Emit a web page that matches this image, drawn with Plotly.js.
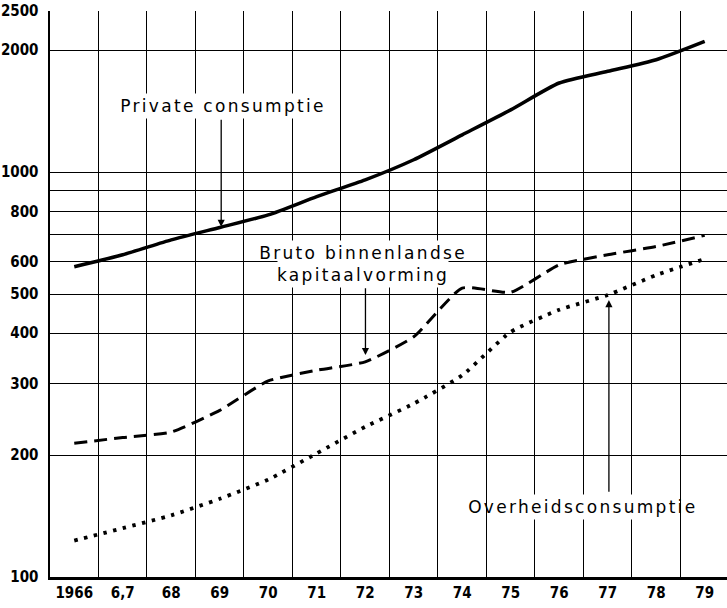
<!DOCTYPE html>
<html>
<head>
<meta charset="utf-8">
<script src="https://cdn.plot.ly/plotly-3.0.1.min.js"></script>
<style>
html,body{margin:0;padding:0;background:#fff;}
#chart{width:727px;height:608px;}
#chart .annotation-text{letter-spacing:2.3px;}
</style>
</head>
<body>
<div id="chart"></div>
<script>
const years = [1966,1967,1968,1969,1970,1971,1972,1973,1974,1975,1976,1977,1978,1979];
const yearLabels = ['1966','6,7','68','69','70','71','72','73','74','75','76','77','78','79'];
const privateConsumptie = [584,625,680,730,784,870,957,1073,1236,1425,1660,1774,1895,2103];
const brutoKapitaal = [214,221,228,258,305,324,340,392,517,505,590,625,655,698];
const overheidsConsumptie = [123,132,142,156,174,202,235,268,315,403,457,497,557,610];
const yTickVals = [100,200,300,400,500,600,700,800,900,1000,2000,2500];
const yTickText = ['100','200','300','400','500','600','','800','','1000','2000','2500'];

const font = 'DejaVu Sans Condensed, DejaVu Sans, sans-serif';

const traces = [
  {x: years, y: privateConsumptie, mode: 'lines', line: {color: '#000', width: 3.5, shape: 'spline', smoothing: 0.6}, hoverinfo: 'skip'},
  {x: years, y: brutoKapitaal, mode: 'lines', line: {color: '#000', width: 3, dash: '13px,7px', shape: 'spline', smoothing: 0.5}, hoverinfo: 'skip'},
  {x: years, y: overheidsConsumptie, mode: 'lines', line: {color: '#000', width: 3.8, dash: '3.5px,6.5px', shape: 'spline', smoothing: 0.5}, hoverinfo: 'skip'}
];

const annFont = {family: 'DejaVu Sans, sans-serif', size: 17, color: '#000'};
const arrow = {showarrow: true, arrowhead: 2, arrowsize: 1.1, arrowwidth: 1.3, arrowcolor: '#000', text: '', xref: 'x', yref: 'y', axref: 'x', ayref: 'y'};
const layout = {
  width: 727, height: 608,
  margin: {l: 50, r: 0, t: 11, b: 31, pad: 0},
  paper_bgcolor: '#fff', plot_bgcolor: '#fff',
  showlegend: false,
  xaxis: {
    range: [1965.5, 1979.46],
    tickmode: 'array', tickvals: years, ticktext: yearLabels,
    showgrid: false, zeroline: false,
    ticks: '', showline: true, linecolor: '#000', linewidth: 2.5,
    tickfont: {family: font, size: 15, color: '#000', weight: 'bold'},
    minor: {tickmode: 'linear', tick0: 1965.5, dtick: 1, showgrid: true, gridcolor: '#000', gridwidth: 1, ticks: ''}
  },
  yaxis: {
    type: 'log', range: [2, Math.log10(2500)],
    tickmode: 'array', tickvals: yTickVals, ticktext: yTickText,
    showgrid: true, gridcolor: '#000', gridwidth: 1, zeroline: false,
    ticks: '', showline: true, linecolor: '#000', linewidth: 2.5,
    ticklabelstandoff: 6,
    tickfont: {family: font, size: 15, color: '#000', weight: 'bold'}
  },
  annotations: [
    {x: 1969.067, y: 3.164, xref: 'x', yref: 'y', text: 'Private consumptie', showarrow: false, font: annFont, bgcolor: '#fff', borderpad: 2},
    Object.assign({}, arrow, {x: 1969.03, y: 2.865, ax: 1969.03, ay: 3.133}),
    {x: 1971.95, y: 2.773, xref: 'x', yref: 'y', text: 'Bruto binnenlandse<br>kapitaalvorming', showarrow: false, font: annFont, bgcolor: '#fff', borderpad: 2},
    Object.assign({}, arrow, {x: 1972.005, y: 2.548, ax: 1972.005, ay: 2.7166}),
    {x: 1976.49, y: 2.1724, xref: 'x', yref: 'y', text: 'Overheidsconsumptie', showarrow: false, font: annFont, bgcolor: '#fff', borderpad: 2},
    Object.assign({}, arrow, {x: 1977.025, y: 2.684, ax: 1977.025, ay: 2.207})
  ]
};

Plotly.newPlot('chart', traces, layout, {staticPlot: true, displayModeBar: false});
</script>
</body>
</html>
